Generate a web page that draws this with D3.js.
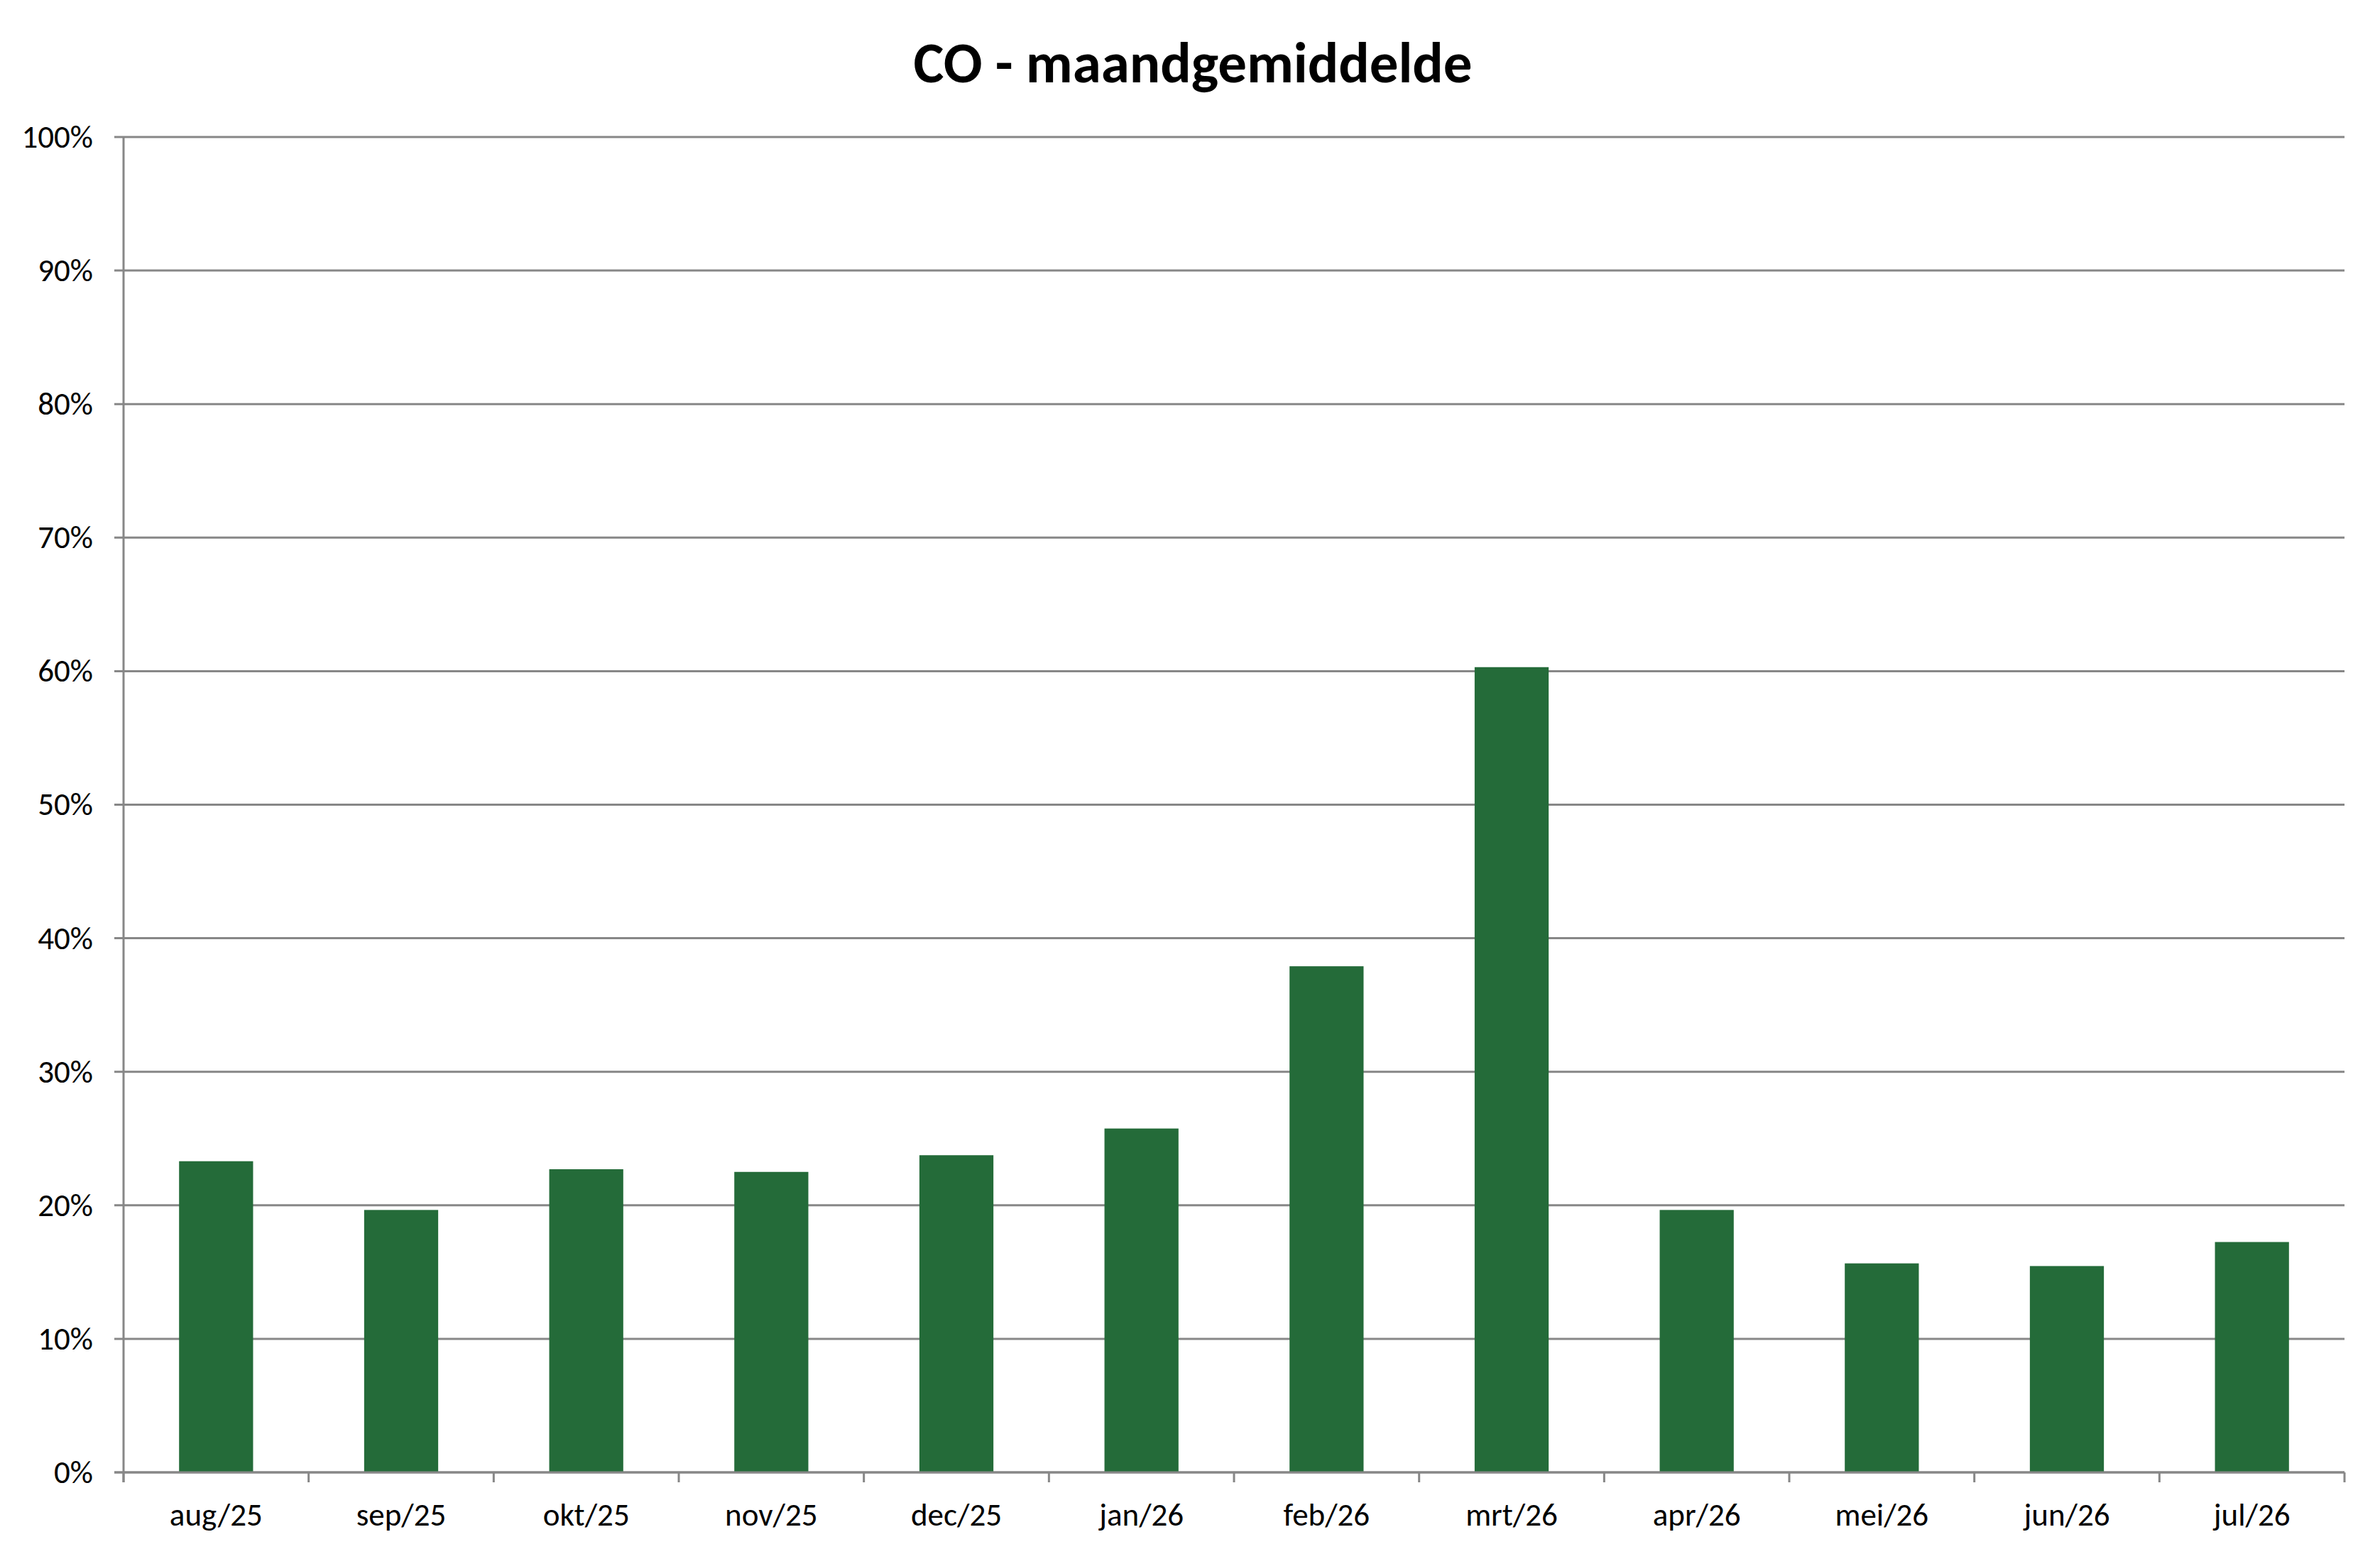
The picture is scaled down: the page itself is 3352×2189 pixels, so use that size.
<!DOCTYPE html>
<html>
<head>
    <meta charset='utf-8'>
    <title>CO - maandgemiddelde</title>
    <style>
    body {
      margin: 0;
      background: #fff;
      font-family: Carlito, Calibri, Lato, sans-serif;
    }
    </style>
    <script src='https://d3js.org/d3.v7.min.js'></script>
</head>
<body>
<div id="container"></div>
<script>
// ******* Data *******
const title = "CO - maandgemiddelde";
const months = ["aug/25", "sep/25", "okt/25", "nov/25", "dec/25", "jan/26",
                "feb/26", "mrt/26", "apr/26", "mei/26", "jun/26", "jul/26"];
const values = [0.233, 0.1965, 0.227, 0.225, 0.2375, 0.2575,
                0.379, 0.603, 0.1965, 0.1565, 0.1545, 0.1725];
const yTicks = [0, 0.1, 0.2, 0.3, 0.4, 0.5, 0.6, 0.7, 0.8, 0.9, 1.0];

// ******* Constants *******
const width = 3352,
      height = 2189,
      margin = {top: 193, right: 50, bottom: 115, left: 174},
      fontFamily = "Carlito, Calibri, Lato, sans-serif",
      gray = "#878787",
      green = "#246b39";

const plotW = width - margin.left - margin.right,
      plotH = height - margin.top - margin.bottom;

// ******* Scales *******
// Excel style: bar is 40% of the category, gap split evenly on both sides
var x = d3.scaleBand()
    .domain(months)
    .range([0, plotW])
    .paddingInner(0.6)
    .paddingOuter(0.3);

var y = d3.scaleLinear()
    .domain([0, 1])
    .range([plotH, 0]);

// ******* SVG *******
var svg = d3.select("#container").append("svg")
    .attr("width", width)
    .attr("height", height)
    .style("display", "block");

svg.append("text")
    .attr("x", width / 2 + 4)
    .attr("y", 116)
    .attr("text-anchor", "middle")
    .attr("font-size", 81)
    .attr("font-weight", "bold")
    .attr("fill", "#000")
    .text(title);

var g = svg.append("g")
    .attr("transform", `translate(${margin.left},${margin.top})`);

// gridlines (they run out to the left as the tick marks)
g.append("g").selectAll("line")
    .data(yTicks)
    .enter()
    .append("line")
    .attr("x1", -13)
    .attr("x2", plotW)
    .attr("y1", d => y(d))
    .attr("y2", d => y(d))
    .attr("stroke", gray)
    .attr("stroke-width", 3);

// y labels
var yAxis = g.append("g")
    .call(d3.axisLeft(y).tickValues(yTicks).tickSize(0).tickPadding(43)
        .tickFormat(d3.format(".0%")));
yAxis.select(".domain").remove();
yAxis.selectAll("text")
    .attr("font-family", fontFamily)
    .attr("font-size", 45)
    .attr("fill", "#000");

// bars
g.selectAll("rect")
    .data(values)
    .enter()
    .append("rect")
    .attr("x", (d, i) => x(months[i]))
    .attr("width", x.bandwidth())
    .attr("y", d => y(d))
    .attr("height", d => plotH - y(d))
    .attr("fill", green);

// axis lines
g.append("line")
    .attr("x1", 0).attr("x2", 0)
    .attr("y1", 0).attr("y2", plotH + 14)
    .attr("stroke", gray).attr("stroke-width", 3);

g.append("line")
    .attr("x1", -13).attr("x2", plotW)
    .attr("y1", plotH).attr("y2", plotH)
    .attr("stroke", gray).attr("stroke-width", 3);

// category boundary ticks
var bounds = months.map((m, i) => i * x.step());
bounds.push(plotW);
g.append("g").selectAll("line")
    .data(bounds)
    .enter()
    .append("line")
    .attr("x1", d => d).attr("x2", d => d)
    .attr("y1", plotH).attr("y2", plotH + 14)
    .attr("stroke", gray).attr("stroke-width", 3);

// x labels
var xAxis = g.append("g")
    .attr("transform", `translate(0,${plotH})`)
    .call(d3.axisBottom(x).tickSize(0).tickPadding(43));
xAxis.select(".domain").remove();
xAxis.selectAll("text")
    .attr("font-family", fontFamily)
    .attr("font-size", 45)
    .attr("fill", "#000");
</script>
</body>
</html>
